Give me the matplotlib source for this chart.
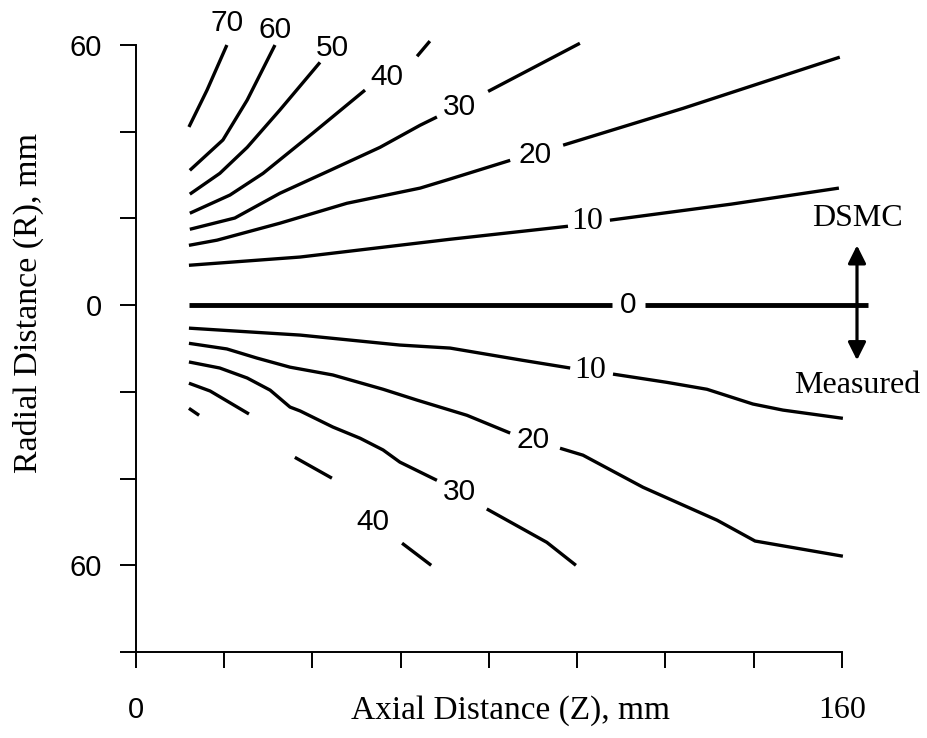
import numpy as np
import matplotlib
matplotlib.use('Agg')
import matplotlib.pyplot as plt
from matplotlib.ticker import FuncFormatter

nan = np.nan

# contour traces, z (axial, mm) and r (radial, mm); nan = gap for label
# upper half: DSMC, lower half: measured (r < 0)
zero_z = [12.0, 107.9, nan, 115.4, 165.9]
zero_r = [0.0, 0.0, nan, 0.0, 0.0]

dsmc10_z = [12.0, 37.2, 71.2, 97.9, nan, 107.4, 134.9, 159.3]
dsmc10_r = [9.2, 11.1, 15.2, 18.2, nan, 19.6, 23.3, 27.0]

dsmc20_z = [12.0, 18.4, 32.6, 47.8, 64.4, 71.2, 84.8, nan, 96.8, 124.0, 159.5]
dsmc20_r = [13.8, 15.0, 18.9, 23.5, 27.0, 29.1, 33.4, nan, 36.9, 45.4, 57.2]

dsmc30_z = [12.2, 22.4, 32.6, 44.0, 55.3, 64.4, 68.2, nan, 79.8, 100.6]
dsmc30_r = [17.5, 20.1, 25.8, 31.1, 36.4, 41.5, 43.4, nan, 49.3, 60.4]

dsmc40_z = [12.2, 21.3, 28.8, 40.1, 51.9, nan, 63.7, 66.6]
dsmc40_r = [21.2, 25.4, 30.4, 39.7, 49.6, nan, 57.4, 60.9]

dsmc50_z = [12.2, 19.0, 25.2, 32.6, 41.7]
dsmc50_r = [25.6, 30.4, 36.4, 45.0, 56.0]

dsmc60_z = [12.2, 19.7, 25.2, 31.5]
dsmc60_r = [31.1, 38.1, 47.3, 60.0]

dsmc70_z = [12.0, 16.1, 20.6]
dsmc70_r = [41.1, 49.6, 60.0]

meas10_z = [12.0, 37.2, 59.8, 71.2, 87.5, 98.4, nan, 108.1, 120.3, 129.4, 139.8, 146.6, 160.2]
meas10_r = [-5.3, -6.9, -9.2, -9.9, -12.7, -14.5, nan, -15.9, -17.8, -19.4, -22.8, -24.2, -26.1]

meas20_z = [12.0, 20.6, 27.4, 34.9, 44.6, 56.0, 63.7, 75.0, 84.8, nan,
            96.1, 101.3, 114.9, 131.7, 140.3, 160.2]
meas20_r = [-8.8, -10.1, -12.2, -14.3, -16.1, -19.4, -21.9, -25.4, -29.5, nan,
            -33.0, -34.6, -42.0, -49.6, -54.4, -57.9]

meas30_z = [12.0, 19.0, 25.2, 30.4, 34.9, 37.2, 44.6, 50.8, 56.0, 59.8, 68.2, nan, 79.5, 93.1, 99.7]
meas30_r = [-13.1, -14.5, -16.8, -19.6, -23.5, -24.4, -28.1, -30.7, -33.4, -36.2, -40.4, nan,
            -47.0, -54.7, -60.0]

meas40_z = [12.0, 16.8, 25.6, nan, 36.0, 44.4, nan, 60.3, 66.9]
meas40_r = [-18.0, -19.8, -25.1, nan, -35.1, -39.9, nan, -54.9, -60.0]

meas50_z = [12.0, 14.3]
meas50_r = [-23.8, -25.4]

# contour labels
label_text = ['70', '60', '50', '40', '30', '20', '10', '0', '10', '20', '30', '40']
label_z = [20.6, 31.5, 44.6, 56.9, 73.4, 90.4, 102.2, 111.5, 102.9, 90.0, 73.4, 53.7]
label_r = [65.0, 63.4, 59.3, 52.6, 45.7, 34.6, 19.4, 0.0, -15.0, -31.1, -43.1, -50.0]
label_serif = [False, False, False, False, False, False, True, False, True, False, False, False]

x_ticks = [0, 20, 40, 60, 80, 100, 120, 140, 160]
y_ticks = [-80, -60, -40, -20, 0, 20, 40, 60]
y_tick_labels = {60: '60', 0: '0', -60: '60'}

serif = ['Liberation Serif', 'DejaVu Serif']
sans = ['Liberation Sans', 'DejaVu Sans']

fig = plt.figure(figsize=(9.27, 7.38), dpi=100)
ax = fig.add_axes([0.1467, 0.1165, 0.7616, 0.8225])

lw = 2.4
for z, r in [(dsmc10_z, dsmc10_r), (dsmc20_z, dsmc20_r), (dsmc30_z, dsmc30_r),
             (dsmc40_z, dsmc40_r), (dsmc50_z, dsmc50_r), (dsmc60_z, dsmc60_r),
             (dsmc70_z, dsmc70_r), (meas10_z, meas10_r), (meas20_z, meas20_r),
             (meas30_z, meas30_r), (meas40_z, meas40_r), (meas50_z, meas50_r)]:
    ax.plot(z, r, color='black', lw=lw, solid_capstyle='butt', clip_on=False)
ax.plot(zero_z, zero_r, color='black', lw=3.5, solid_capstyle='butt', clip_on=False)

for t, z, r, s in zip(label_text, label_z, label_r, label_serif):
    ax.text(z, r, t, ha='center', va='center',
            family=serif if s else sans, fontsize=23 if s else 21.5)

# DSMC / Measured arrow
ax.annotate('', xy=(163.4, 13.8), xytext=(163.4, -12.7),
            arrowprops=dict(arrowstyle='<|-|>', lw=2.3, color='black',
                            mutation_scale=27, shrinkA=0, shrinkB=0),
            annotation_clip=False)
ax.text(163.4, 20.1, 'DSMC', ha='center', va='center', family=serif, fontsize=23)
ax.text(163.4, -18.5, 'Measured', ha='center', va='center', family=serif, fontsize=23)

ax.set_xlim(0, 160)
ax.set_ylim(-80, 60)
for side in ['top', 'right']:
    ax.spines[side].set_visible(False)
for side in ['left', 'bottom']:
    ax.spines[side].set_linewidth(1.4)

ax.set_xticks(x_ticks)
ax.set_yticks(y_ticks)
ax.set_xticklabels(['0'] + [''] * 7 + ['160'])
ax.yaxis.set_major_formatter(FuncFormatter(lambda v, p: y_tick_labels.get(int(round(v)), '')))
ax.tick_params(axis='both', direction='out', length=11.5, width=1.4)
ax.tick_params(axis='y', pad=13, labelsize=21)
ax.tick_params(axis='x', pad=20, labelsize=21)
for lab in ax.get_yticklabels():
    lab.set_family(sans)
xl = ax.get_xticklabels()
xl[0].set_family(sans)
xl[-1].set_family(serif)
xl[-1].set_fontsize(23)

ax.set_xlabel('Axial Distance (Z), mm', family=serif, fontsize=24, va='center')
ax.xaxis.set_label_coords(0.53, -0.097)
ax.set_ylabel('Radial Distance (R), mm', family=serif, fontsize=24.5, va='center')
ax.yaxis.set_label_coords(-0.153, 0.575)

fig.savefig('out.png', dpi=100)
